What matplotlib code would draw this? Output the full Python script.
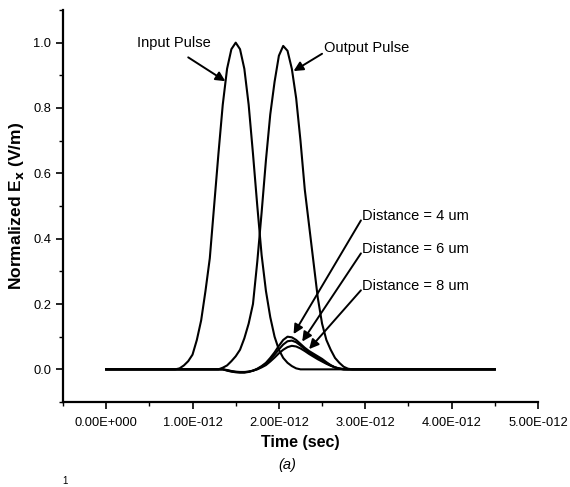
import matplotlib
matplotlib.use("Agg")
import matplotlib.pyplot as plt
from matplotlib.ticker import FuncFormatter, FixedLocator
import numpy as np

plt.rcParams['font.family'] = ['Liberation Sans', 'DejaVu Sans']

# time grid in ps
t_ps = [0.0, 0.5,
        0.80, 0.85, 0.90, 0.95, 1.00, 1.05, 1.10, 1.15, 1.20, 1.25, 1.30, 1.35,
        1.40, 1.45, 1.50, 1.55, 1.60, 1.65, 1.70, 1.75, 1.80, 1.85, 1.90, 1.95,
        2.00, 2.05, 2.10, 2.15, 2.20, 2.25, 2.30, 2.35, 2.40, 2.45, 2.50, 2.55,
        2.60, 2.65, 2.70, 2.75, 2.80, 2.85,
        3.5, 4.5]

input_pulse = [0, 0,
               0.0, 0.003, 0.012, 0.025, 0.045, 0.09, 0.15, 0.24, 0.34, 0.50, 0.66, 0.81,
               0.92, 0.98, 1.0, 0.98, 0.92, 0.81, 0.66, 0.50, 0.35, 0.24, 0.16, 0.10,
               0.06, 0.035, 0.02, 0.01, 0.003, 0, 0, 0, 0, 0, 0, 0,
               0, 0, 0, 0, 0, 0,
               0, 0]

output_pulse = [0, 0,
                0, 0, 0, 0, 0, 0, 0, 0, 0, 0, 0, 0.005,
                0.012, 0.025, 0.04, 0.06, 0.095, 0.14, 0.20, 0.33, 0.48, 0.64, 0.78, 0.88,
                0.96, 0.99, 0.975, 0.92, 0.83, 0.70, 0.55, 0.44, 0.33, 0.22, 0.14, 0.09,
                0.06, 0.035, 0.02, 0.008, 0.002, 0,
                0, 0]

dist_4um = [0, 0,
            0, 0, 0, 0, 0, 0, 0, 0, 0, 0, 0, 0,
            -0.004, -0.007, -0.009, -0.010, -0.010, -0.008, -0.004, 0.002, 0.010, 0.020, 0.035, 0.052,
            0.072, 0.090, 0.100, 0.098, 0.090, 0.078, 0.066, 0.056, 0.048, 0.040, 0.032, 0.022,
            0.013, 0.006, 0.002, 0, 0, 0,
            0, 0]

dist_6um = [0, 0,
            0, 0, 0, 0, 0, 0, 0, 0, 0, 0, 0, 0,
            -0.003, -0.006, -0.008, -0.009, -0.009, -0.007, -0.004, 0.001, 0.008, 0.017, 0.030, 0.045,
            0.061, 0.076, 0.086, 0.088, 0.083, 0.073, 0.062, 0.052, 0.043, 0.035, 0.027, 0.019,
            0.012, 0.006, 0.002, 0, 0, 0,
            0, 0]

dist_8um = [0, 0,
            0, 0, 0, 0, 0, 0, 0, 0, 0, 0, 0, 0,
            -0.002, -0.005, -0.007, -0.008, -0.008, -0.007, -0.004, 0.0, 0.006, 0.013, 0.024, 0.036,
            0.049, 0.060, 0.068, 0.072, 0.070, 0.064, 0.056, 0.047, 0.039, 0.031, 0.024, 0.017,
            0.011, 0.006, 0.003, 0.001, 0, 0,
            0, 0]

x_ticks = [0.0, 1e-12, 2e-12, 3e-12, 4e-12, 5e-12]
x_minor = [-0.5e-12, 0.5e-12, 1.5e-12, 2.5e-12, 3.5e-12, 4.5e-12]
y_ticks = [0.0, 0.2, 0.4, 0.6, 0.8, 1.0]
y_minor = [-0.1, 0.1, 0.3, 0.5, 0.7, 0.9, 1.1]

t = np.array(t_ps) * 1e-12


def sci_fmt(v, pos):
    if v == 0:
        return "0.00E+000"
    e = int(np.floor(np.log10(abs(v)) + 1e-9))
    m = v / 10 ** e
    return "%.2fE%s%03d" % (m, "+" if e >= 0 else "-", abs(e))


fig = plt.figure(figsize=(5.70, 4.87), dpi=100)
ax = fig.add_axes([0.1105, 0.1745, 0.8333, 0.805])

lw = 1.5
for y in [input_pulse, output_pulse, dist_4um, dist_6um, dist_8um]:
    ax.plot(t, y, color='black', lw=lw)

ax.set_xlim(-0.5e-12, 5e-12)
ax.set_ylim(-0.1, 1.1)
ax.spines['top'].set_visible(False)
ax.spines['right'].set_visible(False)
ax.spines['left'].set_linewidth(1.6)
ax.spines['bottom'].set_linewidth(1.6)

ax.xaxis.set_major_locator(FixedLocator(x_ticks))
ax.xaxis.set_minor_locator(FixedLocator(x_minor))
ax.xaxis.set_major_formatter(FuncFormatter(sci_fmt))
ax.yaxis.set_major_locator(FixedLocator(y_ticks))
ax.yaxis.set_minor_locator(FixedLocator(y_minor))
ax.yaxis.set_major_formatter(FuncFormatter(lambda v, p: "%.1f" % v))
ax.tick_params(which='major', length=5, width=1.2, labelsize=9.3)
ax.tick_params(axis='x', which='major', pad=6)
ax.tick_params(which='minor', length=3, width=1.0)

ax.set_xlabel("Time (sec)", fontsize=11.5, fontweight='bold', labelpad=4)
ax.set_ylabel(r"Normalized E$_\mathbf{x}$ (V/m)", fontsize=12.5, fontweight='bold', labelpad=5)

arrow = dict(arrowstyle='-|>', color='black', lw=1.4, mutation_scale=14, shrinkA=0, shrinkB=0)
ax.text(0.78e-12, 1.0, "Input Pulse", fontsize=10.5, ha='center', va='center')
ax.annotate("", xy=(1.38e-12, 0.882), xytext=(0.95e-12, 0.955), arrowprops=arrow)
ax.text(2.52e-12, 0.985, "Output Pulse", fontsize=10.5, ha='left', va='center')
ax.annotate("", xy=(2.17e-12, 0.913), xytext=(2.50e-12, 0.966), arrowprops=arrow)

dist_labels = ["Distance = 4 um", "Distance = 6 um", "Distance = 8 um"]
text_y = [0.469, 0.368, 0.254]
tail_y = [0.456, 0.355, 0.242]
heads = [(2.17e-12, 0.108), (2.27e-12, 0.085), (2.35e-12, 0.062)]
for lab, ty, tl, hd in zip(dist_labels, text_y, tail_y, heads):
    ax.text(2.96e-12, ty, lab, fontsize=10.5, ha='left', va='center')
    ax.annotate("", xy=hd, xytext=(2.95e-12, tl), arrowprops=arrow)

fig.text(287 / 570, 1 - 465 / 487, "(a)", fontsize=10.5, style='italic', ha='center', va='center')
fig.text(65 / 570, 1 - 481 / 487, "1", fontsize=7, ha='center', va='center')

fig.savefig("out.png", dpi=100)
